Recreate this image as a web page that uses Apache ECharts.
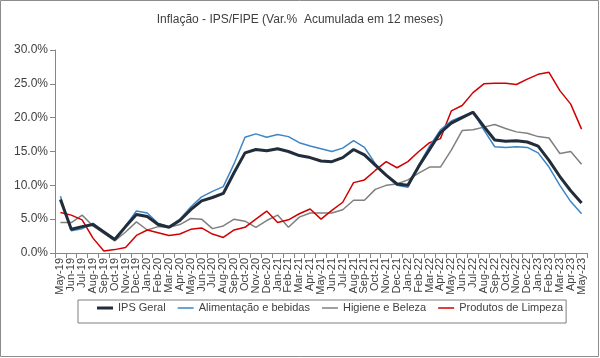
<!DOCTYPE html>
<html>
<head>
<meta charset="utf-8">
<script src="https://cdn.jsdelivr.net/npm/echarts@6/dist/echarts.min.js"></script>
<style>
html,body{margin:0;padding:0;background:#fff;}
#c{width:600px;height:358px;}
</style>
</head>
<body>
<div id="c"></div>
<script>
const categories = ["May-19","Jun-19","Jul-19","Aug-19","Sep-19","Oct-19","Nov-19","Dec-19","Jan-20","Feb-20","Mar-20","Apr-20","May-20","Jun-20","Jul-20","Aug-20","Sep-20","Oct-20","Nov-20","Dec-20","Jan-21","Feb-21","Mar-21","Apr-21","May-21","Jun-21","Jul-21","Aug-21","Sep-21","Oct-21","Nov-21","Dec-21","Jan-22","Feb-22","Mar-22","Apr-22","May-22","Jun-22","Jul-22","Aug-22","Sep-22","Oct-22","Nov-22","Dec-22","Jan-23","Feb-23","Mar-23","Apr-23","May-23"];

const ipsGeral = [7.9,3.5,3.9,4.2,3.1,2.0,3.9,5.7,5.4,4.2,3.8,4.8,6.4,7.7,8.2,8.8,11.9,14.8,15.3,15.1,15.4,15.0,14.4,14.1,13.6,13.5,14.1,15.3,14.5,13.0,11.5,10.2,10.0,12.8,15.3,17.8,19.2,20.0,20.8,18.7,16.7,16.5,16.6,16.4,15.8,13.7,11.3,9.2,7.4];

const alimentacao = [8.4,3.3,3.6,4.4,3.2,2.1,4.0,6.2,5.9,4.4,3.9,5.0,6.8,8.3,9.1,9.8,13.2,17.1,17.6,17.1,17.5,17.2,16.3,15.8,15.4,15.0,15.5,16.6,15.6,13.2,11.5,10.0,9.7,13.0,15.8,18.2,19.5,20.2,20.9,18.2,15.7,15.6,15.7,15.6,14.8,12.7,10.0,7.6,5.8];

const higiene = [4.5,4.5,5.6,4.0,2.9,1.8,3.1,4.6,3.4,3.9,3.8,4.2,5.1,5.0,3.6,4.0,5.0,4.7,3.8,4.8,5.6,3.8,5.3,5.9,5.9,5.9,6.4,7.8,7.8,9.4,10.0,10.2,10.8,11.8,12.7,12.7,15.2,18.1,18.2,18.6,19.0,18.4,17.9,17.7,17.2,17.0,14.7,15.0,13.1];

const limpeza = [6.0,5.6,4.9,2.2,0.3,0.5,0.8,2.6,3.4,3.0,2.6,2.8,3.5,3.7,2.8,2.3,3.4,3.8,5.0,6.2,4.5,4.9,5.8,6.5,5.0,6.3,7.5,10.4,10.8,12.2,13.5,12.6,13.5,15.0,16.3,16.9,21.0,21.8,23.7,25.0,25.1,25.1,24.9,25.7,26.4,26.7,24.0,22.0,18.3];

const yTicks = [0,5,10,15,20,25,30];

const thickIcon = 'path://M0,0 M0,4.5 L16,4.5 L16,7.5 L0,7.5 Z M16,12';
const thinIcon = 'path://M0,0 M0,5.25 L16,5.25 L16,6.75 L0,6.75 Z M16,12';

const chart = echarts.init(document.getElementById('c'));
const font = '"Liberation Sans", Arial, sans-serif';
chart.setOption({
  animation:false,
  backgroundColor:'#fff',
  textStyle:{fontFamily:font},
  title:{
    text:'Inflação - IPS/FIPE (Var.%  Acumulada em 12 meses)',
    left:'center', top:9,
    textStyle:{fontSize:12, fontWeight:'normal', color:'#404040', fontFamily:font}
  },
  legend:{
    left:78, top:300, width:520,
    borderColor:'#7f7f7f', borderWidth:1,
    padding:[2,3,9,19],
    itemGap:12, itemWidth:16, itemHeight:12,
    textStyle:{fontSize:11, color:'#404040', fontFamily:font},
    data:[
      {name:'IPS Geral', icon:thickIcon},
      {name:'Alimentação e bebidas', icon:thinIcon},
      {name:'Higiene e Beleza', icon:thinIcon},
      {name:'Produtos de Limpeza', icon:thinIcon}
    ]
  },
  graphic:[{type:'rect', shape:{x:0.5,y:0.5,width:598,height:356}, style:{fill:'none', stroke:'#8c8c8c', lineWidth:1}, silent:true, z:-1}],
  grid:{left:55, right:13, top:50, bottom:105},
  xAxis:{
    type:'category', data:categories, boundaryGap:true,
    axisLine:{lineStyle:{color:'#868686'}},
    axisTick:{show:true, interval:0, length:5, lineStyle:{color:'#868686'}},
    axisLabel:{interval:0, rotate:90, fontSize:11, color:'#404040', margin:5, fontFamily:font}
  },
  yAxis:{
    type:'value', min:yTicks[0], max:yTicks[yTicks.length-1], interval:5,
    splitLine:{show:false},
    axisLine:{show:true, lineStyle:{color:'#868686'}},
    axisTick:{show:true, length:5, lineStyle:{color:'#868686'}},
    axisLabel:{formatter:v=>v.toFixed(1)+'%', fontSize:12, color:'#404040', margin:7, fontFamily:font}
  },
  series:[
    {name:'IPS Geral', type:'line', data:ipsGeral, symbol:'none', lineStyle:{width:3, color:'#222d3b'}, itemStyle:{color:'#222d3b'}, z:5},
    {name:'Alimentação e bebidas', type:'line', data:alimentacao, symbol:'none', lineStyle:{width:1.5, color:'#3d85c6'}, itemStyle:{color:'#3d85c6'}, z:4},
    {name:'Higiene e Beleza', type:'line', data:higiene, symbol:'none', lineStyle:{width:1.5, color:'#808080'}, itemStyle:{color:'#808080'}, z:3},
    {name:'Produtos de Limpeza', type:'line', data:limpeza, symbol:'none', lineStyle:{width:1.5, color:'#d00000'}, itemStyle:{color:'#d00000'}, z:3}
  ]
});
</script>
</body>
</html>
